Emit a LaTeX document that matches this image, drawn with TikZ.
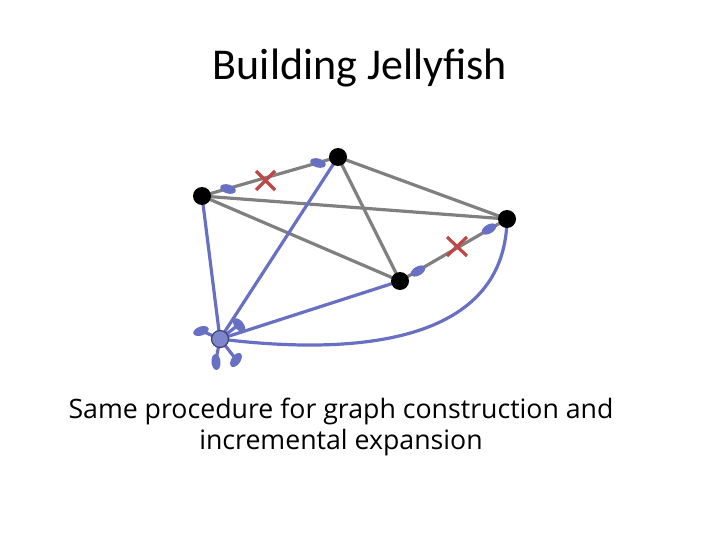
\documentclass[tikz,border=0pt]{standalone}
\usepackage{fontspec}
\usetikzlibrary{shapes.geometric}
\setmainfont{Carlito}
\newfontfamily\capfont{Open Sans}
\definecolor{jblue}{RGB}{104,112,196}
\definecolor{jgray}{RGB}{128,128,128}
\definecolor{jred}{RGB}{190,72,72}
\begin{document}
\begin{tikzpicture}[x=1pt,y=-1pt,
  vtx/.style={circle,fill=black,inner sep=0pt,minimum size=18pt},
  newvtx/.style={circle,fill=jblue!85,draw=jblue!60!black,line width=1.2pt,inner sep=0pt,minimum size=17pt},
  gedge/.style={draw=jgray,line width=3.2pt},
  bedge/.style={draw=jblue,line width=3.2pt},
  petal/.style={fill=jblue,ellipse,inner sep=0pt,minimum width=16pt,minimum height=9pt},
  crossmark/.style={draw=jred,line width=3.2pt}]
\useasboundingbox (0,0) rectangle (720,540);
\node[font=\fontsize{44}{48}\selectfont] (title) at (360,68) {Building Jellyfish};
\node[font=\capfont\fontsize{26.7}{31}\selectfont,align=center] (cap) at (341,427)
  {Same procedure for graph construction and\\incremental expansion};
\coordinate (A) at (202,196);
\coordinate (B) at (338,157);
\coordinate (C) at (507,219);
\coordinate (D) at (400,281);
\coordinate (N) at (220,339);
% gray edges
\draw[gedge] (A) -- (B);
\draw[gedge] (A) -- (C);
\draw[gedge] (A) -- (D);
\draw[gedge] (B) -- (C);
\draw[gedge] (B) -- (D);
\draw[gedge] (D) -- (C);
% blue edges
\draw[bedge] (N) -- (A);
\draw[bedge] (N) -- (B);
\draw[bedge] (N) -- (D);
\draw[bedge] (N) .. controls (340,354) and (505,350) .. (C);
% stems from N
\draw[bedge] (N) -- (202,331);
\draw[bedge] (N) -- (216,360);
\draw[bedge] (N) -- (235,358);
\draw[bedge] (N) -- (237,326);
% petals
\node[petal,rotate=-16] (pa) at (228,189) {};
\node[petal,rotate=-16] (pb) at (318,163) {};
\node[petal,rotate=30] (pd) at (418,271) {};
\node[petal,rotate=30] (pc) at (489,229) {};
\node[petal,rotate=20] (p1) at (201,331) {};
\node[petal,rotate=95] (p2) at (216,362) {};
\node[petal,rotate=55] (p3) at (236,360) {};
\node[petal,rotate=-50] (p4) at (239,325) {};
% vertices
\node[vtx] (a) at (A) {};
\node[vtx] (b) at (B) {};
\node[vtx] (c) at (C) {};
\node[vtx] (d) at (D) {};
\node[newvtx] (n) at (N) {};
% crosses
\draw[crossmark] (256,171) -- (275,190) (256,190) -- (275,171);
\draw[crossmark] (447,237) -- (467,256) (447,256) -- (467,237);
\end{tikzpicture}
\end{document}
